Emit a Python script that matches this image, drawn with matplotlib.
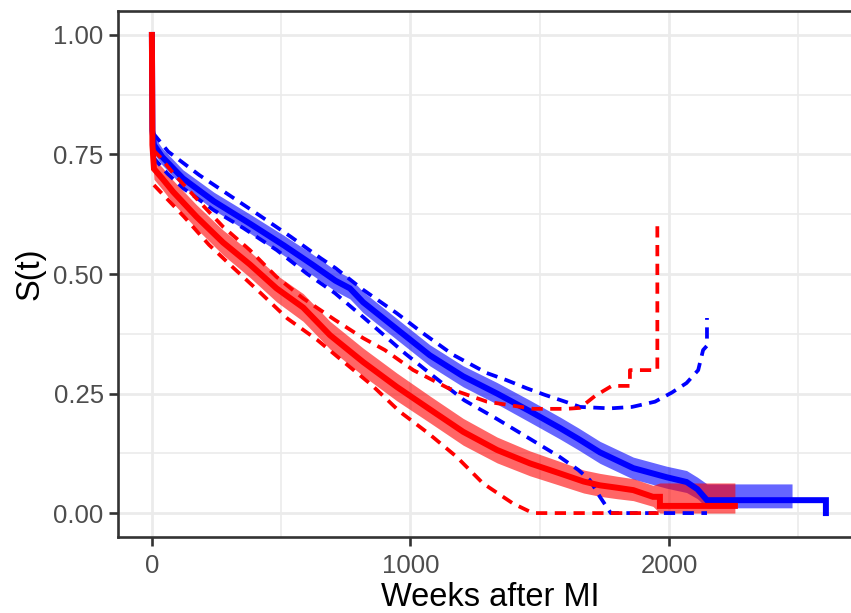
import matplotlib
matplotlib.use("Agg")
import matplotlib.pyplot as plt
from matplotlib.ticker import MultipleLocator

# Survival curves (Kaplan-Meier)
blue_t = [0, 2, 8, 40, 120, 240, 380, 510, 620, 710, 766, 817, 947, 1075, 1204, 1335, 1462,
          1578, 1650, 1733, 1862, 1991, 2068, 2110, 2147, 2607, 2607]
blue_s = [1.0, 0.80, 0.77, 0.745, 0.70, 0.652, 0.605, 0.56, 0.52, 0.486, 0.47, 0.441, 0.385,
          0.33, 0.286, 0.25, 0.213, 0.178, 0.155, 0.127, 0.094, 0.075, 0.065, 0.05, 0.027,
          0.027, 0.0]

blue_band_t = [2, 8, 40, 120, 240, 380, 510, 620, 710, 766, 817, 947, 1075, 1204, 1335, 1462,
               1578, 1650, 1733, 1862, 1991, 2068, 2110, 2147, 2476]
blue_lo = [0.78, 0.752, 0.728, 0.683, 0.634, 0.585, 0.539, 0.498, 0.464, 0.448, 0.419, 0.363,
           0.308, 0.264, 0.228, 0.19, 0.155, 0.132, 0.104, 0.071, 0.052, 0.043, 0.03, 0.011,
           0.011]
blue_hi = [0.82, 0.788, 0.763, 0.718, 0.671, 0.625, 0.581, 0.542, 0.508, 0.492, 0.463, 0.407,
           0.352, 0.308, 0.273, 0.236, 0.201, 0.178, 0.15, 0.117, 0.098, 0.089, 0.075, 0.061,
           0.061]

blue_up_t = [4, 63, 183, 299, 415, 537, 653, 711, 817, 947, 1049, 1165, 1295, 1372, 1450, 1521,
             1604, 1656, 1772, 1857, 1946, 2011, 2068, 2113, 2132, 2147, 2147]
blue_up = [0.795, 0.756, 0.707, 0.665, 0.623, 0.578, 0.533, 0.512, 0.467, 0.418, 0.376, 0.331,
           0.293, 0.278, 0.261, 0.247, 0.232, 0.222, 0.219, 0.222, 0.233, 0.252, 0.272, 0.299,
           0.341, 0.35, 0.408]
blue_dn_t = [4, 60, 122, 238, 354, 483, 599, 708, 817, 979, 1092, 1208, 1331, 1460, 1576, 1650,
             1694, 1733, 1775, 2147]
blue_dn = [0.745, 0.71, 0.679, 0.634, 0.596, 0.55, 0.501, 0.46, 0.41, 0.334, 0.285, 0.236, 0.198,
           0.156, 0.118, 0.09, 0.069, 0.034, 0.0, 0.0]

red_t = [0, 2, 8, 40, 82, 172, 275, 379, 482, 585, 689, 817, 947, 1075, 1204, 1335, 1462, 1578,
         1670, 1733, 1800, 1862, 1938, 1965, 1965, 2255]
red_s = [1.0, 0.77, 0.72, 0.70, 0.672, 0.62, 0.566, 0.52, 0.47, 0.43, 0.372, 0.316, 0.264, 0.217,
         0.17, 0.132, 0.104, 0.083, 0.066, 0.058, 0.053, 0.048, 0.034, 0.034, 0.015, 0.015]

red_band_t = [2, 8, 40, 82, 172, 275, 379, 482, 585, 689, 817, 947, 1075, 1204, 1335, 1462, 1578,
              1670, 1733, 1800, 1862, 1938, 1965, 2255]
red_lo = [0.75, 0.698, 0.677, 0.648, 0.595, 0.54, 0.493, 0.442, 0.401, 0.343, 0.287, 0.235,
          0.189, 0.142, 0.105, 0.078, 0.058, 0.042, 0.035, 0.03, 0.026, 0.014, 0.0, 0.0]
red_hi = [0.79, 0.742, 0.723, 0.696, 0.645, 0.592, 0.547, 0.498, 0.459, 0.401, 0.345, 0.293,
          0.245, 0.198, 0.159, 0.13, 0.108, 0.09, 0.083, 0.077, 0.072, 0.058, 0.063, 0.063]

red_up_t = [4, 31, 82, 172, 275, 379, 482, 585, 708, 817, 901, 1011, 1147, 1296, 1476, 1604,
            1656, 1714, 1779, 1849, 1849, 1955, 1955]
red_up = [0.76, 0.745, 0.711, 0.658, 0.599, 0.55, 0.494, 0.449, 0.404, 0.366, 0.341, 0.299,
          0.261, 0.233, 0.218, 0.218, 0.22, 0.245, 0.266, 0.266, 0.299, 0.299, 0.609]
red_dn_t = [8, 124, 221, 317, 421, 524, 640, 740, 850, 959, 1069, 1178, 1281, 1397, 1462, 1480,
            1960]
red_dn = [0.686, 0.62, 0.561, 0.512, 0.46, 0.407, 0.362, 0.317, 0.268, 0.212, 0.167, 0.118,
          0.062, 0.02, 0.003, 0.0, 0.0]

x_ticks = [0, 1000, 2000]
y_ticks = [0.0, 0.25, 0.5, 0.75, 1.0]
y_tick_labels = ["0.00", "0.25", "0.50", "0.75", "1.00"]

plt.rcParams['font.family'] = ['Liberation Sans', 'DejaVu Sans']

fig = plt.figure(figsize=(8.51, 6.13), dpi=100)
ax = fig.add_axes([0.139, 0.124, 0.871, 0.858])

dash_style = dict(linestyle=(0, (3.0, 2.0)), linewidth=2.7)

# blue group
ax.fill_between(blue_band_t, blue_lo, blue_hi, color='blue', alpha=0.6, linewidth=0)
ax.plot(blue_t, blue_s, color='blue', linewidth=4.3, solid_joinstyle='miter')
ax.plot(blue_up_t, blue_up, color='blue', **dash_style)
ax.plot(blue_dn_t, blue_dn, color='blue', **dash_style)

# red group
ax.fill_between(red_band_t, red_lo, red_hi, color='red', alpha=0.6, linewidth=0)
ax.plot(red_t, red_s, color='red', linewidth=4.3, solid_joinstyle='miter')
ax.plot(red_up_t, red_up, color='red', **dash_style)
ax.plot(red_dn_t, red_dn, color='red', **dash_style)

ax.set_xlim(-130, 2737)
ax.set_ylim(-0.05, 1.05)
ax.set_xticks(x_ticks)
ax.set_yticks(y_ticks)
ax.set_yticklabels(y_tick_labels)
ax.xaxis.set_minor_locator(MultipleLocator(500))
ax.yaxis.set_minor_locator(MultipleLocator(0.125))
ax.tick_params(which='minor', length=0)
ax.tick_params(which='major', length=6.5, width=1.9, color='#333333',
               labelsize=18.5, labelcolor='#4D4D4D', pad=4)
ax.tick_params(axis='x', pad=6)

ax.grid(which='major', color='#EBEBEB', linewidth=2.0)
ax.grid(which='minor', color='#EBEBEB', linewidth=1.2)
ax.set_axisbelow(True)
for sp in ax.spines.values():
    sp.set_color('#333333')
    sp.set_linewidth(1.9)
# panel runs past the right edge of the picture
ax.spines['right'].set_visible(False)

fig.text(490 / 851, 0.0, "Weeks after MI", ha='center', va='bottom', fontsize=23.5)
fig.text(30 / 851, (613 - 274) / 613, "S(t)", ha='center', va='center', rotation=90,
         fontsize=23.5)

fig.savefig("out.png", dpi=100)
